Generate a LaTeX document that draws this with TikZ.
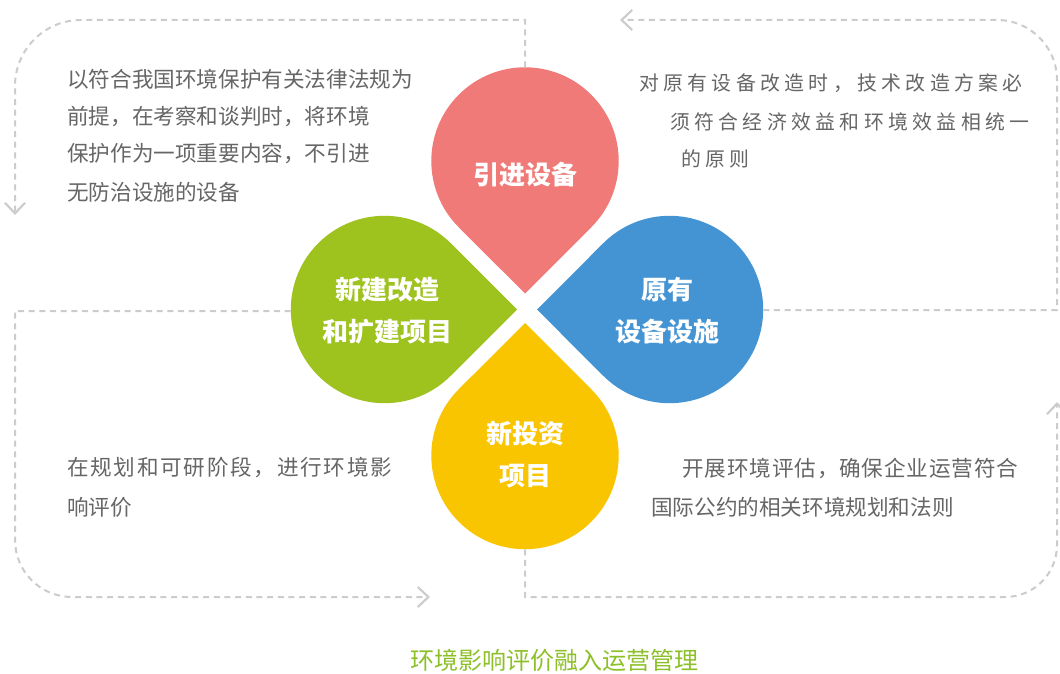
\documentclass[tikz,border=0pt]{standalone}
\usepackage{fontspec}
\newfontfamily\cjk{Noto Sans CJK SC}
\usetikzlibrary{arrows.meta,calc}
\definecolor{petalred}{RGB}{239,122,120}
\definecolor{petalblue}{RGB}{68,148,211}
\definecolor{petalgreen}{RGB}{158,194,30}
\definecolor{petalyellow}{RGB}{249,197,0}
\definecolor{txtgray}{RGB}{102,102,102}
\definecolor{linegray}{RGB}{204,204,204}
\definecolor{capgreen}{RGB}{141,192,40}
\begin{document}
\begin{tikzpicture}[x=0.75pt,y=-0.75pt,
  conn/.style={draw=linegray,line width=1.5pt,dash pattern=on 4.5pt off 3.5pt},
  chev/.style={-{Straight Barb[length=8pt,width=15pt,line width=1.6pt]}},
  body/.style={anchor=west,inner sep=0pt,text=txtgray,font=\cjk\fontsize{16.2pt}{20pt}\selectfont},
  spaced/.style={font=\cjk\fontsize{16.2pt}{20pt}\selectfont\addfontfeature{LetterSpace=#1}},
  bodytr/.style={anchor=west,inner sep=0pt,text=txtgray,font=\cjk\fontsize{14.9pt}{20pt}\selectfont\addfontfeature{LetterSpace=22}},
  petaltext/.style={inner sep=0pt,text=white,align=center,font=\cjk\bfseries\fontsize{19.5pt}{31.5pt}\selectfont},
]
\useasboundingbox (0,0) rectangle (1060,674);
\fill[white] (0,0) rectangle (1060,674);

% petal centres
\coordinate (cr) at (525,161);
\coordinate (cg) at (384.5,309.5);
\coordinate (cb) at (669.5,309.5);
\coordinate (cy) at (525,455.5);

% petals (teardrops)
\fill[petalred] ($(cr)+(90:132.5)$) -- ($(cr)+(135:93.7)$) arc[start angle=135,end angle=405,radius=93.7] -- cycle;
\fill[petalgreen] ($(cg)+(0:132.5)$) -- ($(cg)+(45:93.7)$) arc[start angle=45,end angle=315,radius=93.7] -- cycle;
\fill[petalblue] ($(cb)+(180:132.5)$) -- ($(cb)+(225:93.7)$) arc[start angle=225,end angle=495,radius=93.7] -- cycle;
\fill[petalyellow] ($(cy)+(270:132.5)$) -- ($(cy)+(315:93.7)$) arc[start angle=315,end angle=585,radius=93.7] -- cycle;

% petal labels
\node[petaltext] (lred) at (525.5,175) {引进设备};
\node[petaltext] (lgreen) at (387,310.5) {新建改造\\和扩建项目};
\node[petaltext] (lblue) at (667.7,310.5) {原有\\设备设施};
\node[petaltext] (lyellow) at (525.5,454.5) {新投资\\项目};

% connector ends
\coordinate (redtop) at (525,67.3);
\coordinate (blueright) at (763.3,310);
\coordinate (greenleft) at (290.7,311);
\coordinate (yellowbot) at (525,549.3);
\coordinate (tlend) at (15,215);
\coordinate (trend) at (620,20);
\coordinate (blend) at (430,597);
\coordinate (brend) at (1057,402);

% connectors
\draw[conn,chev] (redtop) -- (525,20) -- (81,20) arc[start angle=270,end angle=180,radius=66] -- (tlend);
\draw[conn,chev] (blueright) -- (1057,310) -- (1057,80) arc[start angle=0,end angle=-90,radius=60] -- (trend);
\draw[conn,chev] (greenleft) -- (15,311) -- (15,540) arc[start angle=180,end angle=90,radius=57] -- (blend);
\draw[conn,chev] (yellowbot) -- (525,597) -- (1005,597) arc[start angle=90,end angle=0,radius=52] -- (brend);

% texts
\node[body] (tl1) at (67,79) {以符合我国环境保护有关法律法规为};
\node[body] (tl2) at (67,117) {前提，在考察和谈判时，将环境};
\node[body] (tl3) at (67,154) {保护作为一项重要内容，不引进};
\node[body] (tl4) at (67,192) {无防治设施的设备};

\node[bodytr] (tr1) at (639,83) {对原有设备改造时，技术改造方案必};
\node[bodytr] (tr2) at (670,122) {须符合经济效益和环境效益相统一};
\node[bodytr] (tr3) at (681,159) {的原则};

\node[body,spaced=8] (bl1) at (67,468) {在规划和可研阶段，进行环境影};
\node[body] (bl2) at (67,507) {响评价};

\node[body,spaced=4] (br1) at (682,468) {开展环境评估，确保企业运营符合};
\node[body] (br2) at (651,507) {国际公约的相关环境规划和法则};

\node[inner sep=0pt,text=capgreen,font=\cjk\fontsize{18pt}{20pt}\selectfont] (cap) at (554,660) {环境影响评价融入运营管理};
\end{tikzpicture}
\end{document}
